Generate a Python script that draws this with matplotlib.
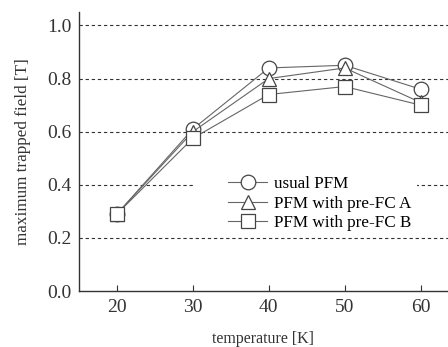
import numpy as np
import matplotlib.pyplot as plt
from matplotlib.patches import Rectangle

plt.rcParams['font.family'] = ['Liberation Serif', 'DejaVu Serif']

temps = [20, 30, 40, 50, 60]
usual = [0.29, 0.61, 0.84, 0.85, 0.76]
pre_a = [0.29, 0.60, 0.80, 0.84, 0.71]
pre_b = [0.29, 0.575, 0.74, 0.77, 0.70]
labels = ['usual PFM', 'PFM with pre-FC A', 'PFM with pre-FC B']

fig = plt.figure(figsize=(4.48, 3.47), dpi=100)
ax = fig.add_axes([0.176, 0.161, 0.824, 0.804])

gray = '#666666'
for ys, mk, lab in zip([usual, pre_a, pre_b], ['o', '^', 's'], labels):
    ax.plot(temps, ys, color=gray, lw=0.8, marker=mk, markersize=10.5,
            markerfacecolor='white', markeredgecolor='#444444', markeredgewidth=0.9,
            label=lab, zorder=3)

for g in [0.2, 0.4, 0.6, 0.8, 1.0]:
    ax.axhline(g, color='#333333', lw=0.8, ls=(0, (3, 2.5)), zorder=1)

ax.set_xlim(15, 63.6)
ax.set_ylim(0, 1.05)
ax.set_xticks(temps)
ax.set_yticks([0.0, 0.2, 0.4, 0.6, 0.8, 1.0])
ax.set_yticklabels(['0.0', '0.2', '0.4', '0.6', '0.8', '1.0'])
ax.tick_params(axis='x', direction='in', length=4, labelsize=14, color='#333333',
               labelcolor='#333333', pad=6)
ax.tick_params(axis='y', length=0, labelsize=14, labelcolor='#333333', pad=5)
for s in ['top', 'right']:
    ax.spines[s].set_visible(False)
for s in ['left', 'bottom']:
    ax.spines[s].set_color('#333333')
    ax.spines[s].set_linewidth(1.0)

ax.set_xlabel('temperature [K]', fontsize=11.5, labelpad=10.5, color='#333333')
ax.set_ylabel('maximum trapped field [T]', fontsize=12.3, labelpad=12, color='#333333')

# white patch behind the legend, wider than the legend frame
ax.add_patch(Rectangle((0.314, 0.21), 0.59, 0.22, transform=ax.transAxes,
                       facecolor='white', edgecolor='none', zorder=2))

leg = ax.legend(loc='upper left', bbox_to_anchor=(0.39, 0.43), fontsize=12.3,
                frameon=True, fancybox=False, edgecolor='none', framealpha=1,
                handlelength=2.3, handletextpad=0.4, labelspacing=0.2,
                borderpad=0.3, borderaxespad=0)
leg.set_zorder(5)

fig.savefig('out.png', dpi=100)
